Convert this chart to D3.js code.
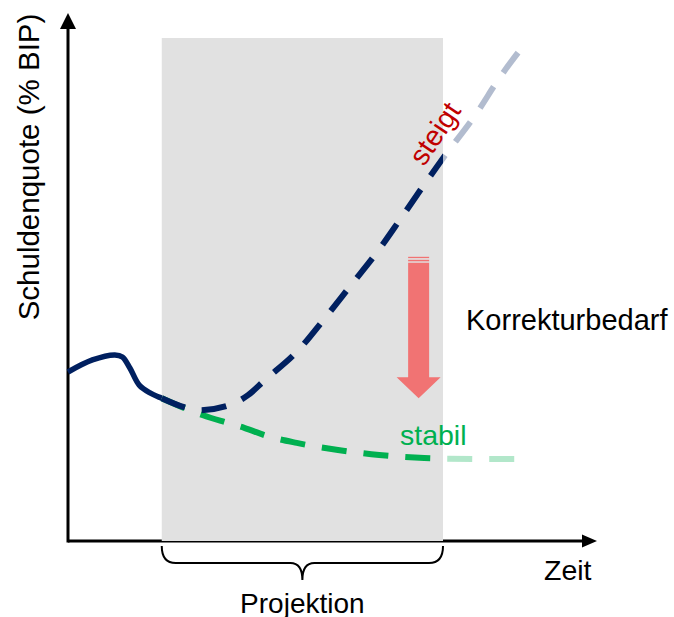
<!DOCTYPE html>
<html>
<head>
<meta charset="utf-8">
<script src="https://cdn.jsdelivr.net/npm/d3@7"></script>
<style>
  html, body { margin: 0; padding: 0; background: #fff; }
  svg { display: block; }
  text { font-family: "Liberation Sans", Arial, sans-serif; }
</style>
</head>
<body>
<svg id="chart" width="674" height="617"></svg>
<script>
// Historical debt ratio (solid)
const histT = [0, 0.65, 1.25, 1.45, 1.65, 1.9, 2.2, 2.5];
const histV = [33.6, 36.0, 37.0, 36.6, 34.4, 31.0, 29.4, 28.4];

// Projection without correction ("steigt")
const riseT = [2.5, 3.2, 3.5, 4.3, 4.8, 5.25, 6.1, 6.85, 7.55, 8.25, 8.9, 9.55, 10, 10.9, 11.5, 12.2];
const riseV = [28.4, 26.4, 26.0, 27.0, 29.0, 32.0, 37.6, 44.3, 50.9, 57.5, 64.4, 71.4, 76.1, 85.1, 92.0, 99.0];

// Projection with correction ("stabil")
const stableT = [2.5, 3.6, 4.25, 4.7, 5.3, 6.1, 7.2, 8.3, 9.5, 10.9, 12.1];
const stableV = [28.4, 25.0, 23.5, 22.5, 20.9, 19.5, 18.1, 17.1, 16.5, 16.3, 16.3];

// Projection window
const projection = [2.5, 10];
// Correction arrow: position in time and its top / bottom levels
const correctionT = 9.35;
const correctionRange = [56.5, 28.4];

const labels = {
  yAxis: "Schuldenquote (% BIP)",
  xAxis: "Zeit",
  window: "Projektion",
  rise: "steigt",
  stable: "stabil",
  correction: "Korrekturbedarf"
};

const colors = {
  navy: "#002060",
  green: "#00b050",
  red: "#c00000",
  arrow: "#f17373",
  band: "#e1e1e1"
};

const svg = d3.select("#chart");
const x = d3.scaleLinear().domain([0, 10]).range([68, 443]);
const y = d3.scaleLinear().domain([0, 100]).range([541, 38]);

const xAxisEnd = 597, yAxisTop = 13;

// Axes with arrowheads
svg.append("line").attr("x1", x(0)).attr("x2", xAxisEnd - 14)
  .attr("y1", y(0)).attr("y2", y(0))
  .attr("stroke", "#000").attr("stroke-width", 3);
svg.append("path")
  .attr("d", `M${xAxisEnd},${y(0)} L${xAxisEnd - 15},${y(0) - 6.5} L${xAxisEnd - 15},${y(0) + 6.5} Z`)
  .attr("fill", "#000");
svg.append("line").attr("x1", x(0)).attr("x2", x(0))
  .attr("y1", y(0) + 1.5).attr("y2", yAxisTop + 14)
  .attr("stroke", "#000").attr("stroke-width", 3);
svg.append("path")
  .attr("d", `M${x(0)},${yAxisTop} L${x(0) - 8},${yAxisTop + 16} L${x(0) + 8},${yAxisTop + 16} Z`)
  .attr("fill", "#000");

// Projection band
svg.append("rect")
  .attr("x", x(projection[0])).attr("y", y(100))
  .attr("width", x(projection[1]) - x(projection[0]))
  .attr("height", y(0) - y(100))
  .attr("fill", colors.band);

// Clip regions: inside / beyond the projection window
const defs = svg.append("defs");
defs.append("clipPath").attr("id", "inside")
  .append("rect").attr("x", 0).attr("y", 0).attr("width", x(projection[1])).attr("height", 617);
defs.append("clipPath").attr("id", "beyond")
  .append("rect").attr("x", x(projection[1])).attr("y", 0).attr("width", 674).attr("height", 617);

const line = d3.line().x(d => x(d[0])).y(d => y(d[1])).curve(d3.curveMonotoneX);
const smooth = d3.line().x(d => x(d[0])).y(d => y(d[1])).curve(d3.curveCatmullRom.alpha(0.5));
const zip = (a, b) => a.map((v, i) => [v, b[i]]);

function dashed(points, color) {
  [["inside", 1], ["beyond", 0.3]].forEach(([clip, op]) => {
    svg.append("path")
      .attr("d", line(points))
      .attr("clip-path", `url(#${clip})`)
      .attr("fill", "none")
      .attr("stroke", color)
      .attr("stroke-width", 6)
      .attr("stroke-dasharray", "25,17")
      .attr("opacity", op);
  });
}

dashed(zip(stableT, stableV), colors.green);
dashed(zip(riseT, riseV), colors.navy);

svg.append("path")
  .attr("d", smooth(zip(histT, histV)))
  .attr("fill", "none")
  .attr("stroke", colors.navy)
  .attr("stroke-width", 5.5)
  .attr("stroke-linecap", "butt");

// Correction arrow (striped top, block head)
const ax = x(correctionT);
const aTop = y(correctionRange[0]);
const aTip = y(correctionRange[1]);
const shaftW = 21, headW = 44, headH = 21;
const arrow = svg.append("g").attr("fill", colors.arrow);
arrow.append("rect").attr("x", ax - shaftW / 2).attr("y", aTop).attr("width", shaftW).attr("height", 1.3);
arrow.append("rect").attr("x", ax - shaftW / 2).attr("y", aTop + 3).attr("width", shaftW).attr("height", 1.5);
arrow.append("path")
  .attr("d", `M${ax - shaftW / 2},${aTop + 6} L${ax + shaftW / 2},${aTop + 6} L${ax + shaftW / 2},${aTip - headH}
              L${ax + headW / 2},${aTip - headH} L${ax},${aTip} L${ax - headW / 2},${aTip - headH}
              L${ax - shaftW / 2},${aTip - headH} Z`);

// Brace under the projection window
const bL = x(projection[0]), bR = x(projection[1]), bM = (bL + bR) / 2;
const bTop = 546, bMid = 563, bTip = 580;
svg.append("path")
  .attr("d", `M${bL},${bTop} Q${bL},${bMid} ${bL + 14},${bMid} L${bM - 12},${bMid}
              Q${bM},${bMid} ${bM},${bTip} Q${bM},${bMid} ${bM + 12},${bMid}
              L${bR - 14},${bMid} Q${bR},${bMid} ${bR},${bTop}`)
  .attr("fill", "none").attr("stroke", "#000").attr("stroke-width", 2);

// Text
svg.append("text").attr("transform", "translate(39,167) rotate(-90)")
  .attr("text-anchor", "middle").attr("font-size", 29.5).attr("fill", "#000").text(labels.yAxis);
svg.append("text").attr("x", 544).attr("y", 580)
  .attr("font-size", 28.5).attr("fill", "#000").text(labels.xAxis);
svg.append("text").attr("x", bM).attr("y", 613).attr("text-anchor", "middle")
  .attr("font-size", 28).attr("fill", "#000").text(labels.window);
svg.append("text").attr("x", 466).attr("y", 330)
  .attr("font-size", 29).attr("fill", "#000").text(labels.correction);
svg.append("text").attr("x", 400).attr("y", 445)
  .attr("font-size", 28.5).attr("fill", colors.green).text(labels.stable);
svg.append("text").attr("transform", "translate(443,139) rotate(-56)")
  .attr("text-anchor", "middle").attr("font-size", 28.5).attr("fill", colors.red).text(labels.rise);
</script>
</body>
</html>
